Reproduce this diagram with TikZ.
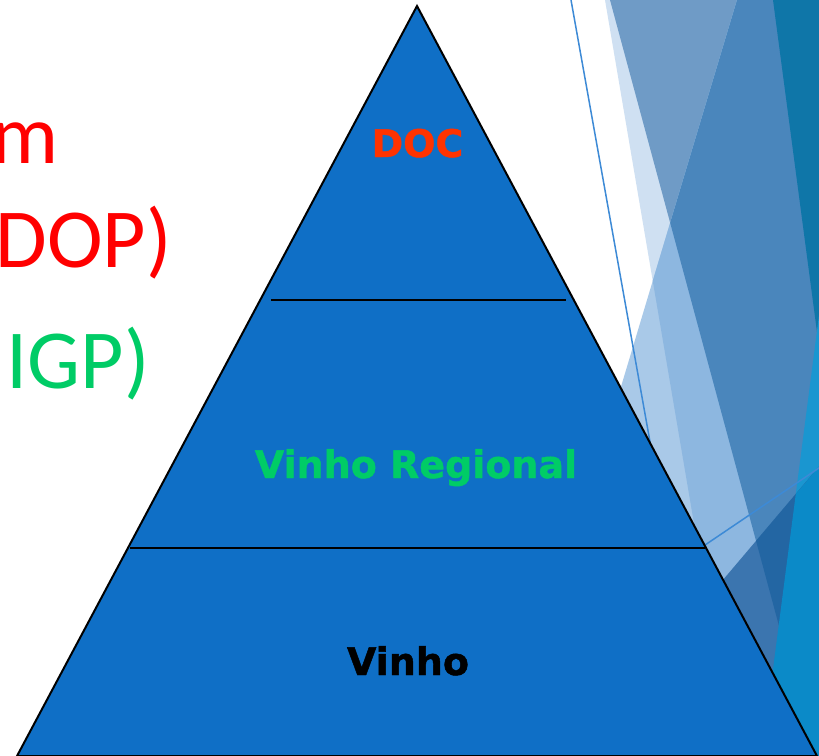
\documentclass[tikz,border=0pt]{standalone}
\usepackage{fontspec}
\newfontfamily\pyrfont{DejaVu Sans Bold}[FakeBold=1.2]
\newfontfamily\sidefont{Carlito}
\definecolor{pyrblue}{HTML}{0F6FC6}
\definecolor{docred}{HTML}{FF3300}
\definecolor{regreen}{HTML}{00CC66}
\definecolor{sidered}{HTML}{FF0000}
\definecolor{cPale}{HTML}{CFE0F2}
\definecolor{cA}{HTML}{6F9BC6}
\definecolor{cB}{HTML}{A9C9E8}
\definecolor{cBC}{HTML}{8DB7E0}
\definecolor{cBA}{HTML}{4A86BC}
\definecolor{cTeal}{HTML}{0F76A8}
\definecolor{cBright}{HTML}{1A96D0}
\definecolor{cE}{HTML}{3B75AF}
\definecolor{cEA}{HTML}{2366A3}
\definecolor{cED}{HTML}{0B8AC8}
\definecolor{thin}{HTML}{3D8AD6}
\tikzset{
  pyrlabel/.style={font=\pyrfont\fontsize{38}{40}\selectfont, inner sep=0pt, anchor=base},
  sidelabel/.style={font=\sidefont\fontsize{84}{90}\selectfont, inner sep=0pt, anchor=base east},
  divider/.style={draw=black, line width=2pt},
  thinline/.style={draw=thin, line width=1.5pt}
}
\begin{document}
\begin{tikzpicture}[x=1pt,y=-1pt]
\useasboundingbox (0,0) rectangle (819,755);
\clip (0,0) rectangle (819,755);
\fill[white] (0,0) rectangle (819,755);
% decorative facets
\fill[cPale] (605,0) -- (900,0) -- (900,800) -- (741,800) -- cycle;
\fill[cA] (610,0) -- (900,0) -- (900,800) -- (826,800) -- cycle;
\begin{scope}
  \clip (737,0) -- (900,0) -- (900,800) -- (497,800) -- cycle;
  \fill[cB] (0,0) rectangle (900,800);
  \fill[cBC] (605,0) -- (900,0) -- (900,800) -- (741,800) -- cycle;
  \fill[cBA] (610,0) -- (900,0) -- (900,800) -- (826,800) -- cycle;
\end{scope}
\fill[cTeal] (773,0) -- (900,0) -- (900,800) -- (879,800) -- cycle;
\fill[cBright] (860,0) -- (900,0) -- (900,800) -- (756,800) -- cycle;
\begin{scope}
  \clip (600,725) -- (900,371) -- (900,800) -- (600,800) -- cycle;
  \fill[cE] (0,0) rectangle (900,800);
  \fill[cEA] (610,0) -- (900,0) -- (900,800) -- (826,800) -- cycle;
  \fill[cED] (860,0) -- (900,0) -- (900,800) -- (756,800) -- cycle;
\end{scope}
\draw[thinline] (571,0) -- (706,755);
\draw[thinline] (600,616) -- (850,447);
% pyramid
\filldraw[fill=pyrblue, draw=black, line width=2pt, line join=miter] (417,6) -- (817,756) -- (17,756) -- cycle;
\draw[divider] (271,300) -- (566,300);
\draw[divider] (130,548) -- (705,548);
\node[pyrlabel, text=docred] (doc) at (417.5,157) {DOC};
\node[pyrlabel, text=regreen] (reg) at (416,478) {Vinho Regional};
\node[pyrlabel, text=black] (vin) at (408,675) {Vinho};
% side texts (cut at the left edge)
\node[sidelabel, text=sidered] (sm) at (59,163) {m};
\node[sidelabel, text=sidered] (sdop) at (172,267) {DOP)};
\node[sidelabel, text=regreen] (sigp) at (150,388) {IGP)};
\end{tikzpicture}
\end{document}
